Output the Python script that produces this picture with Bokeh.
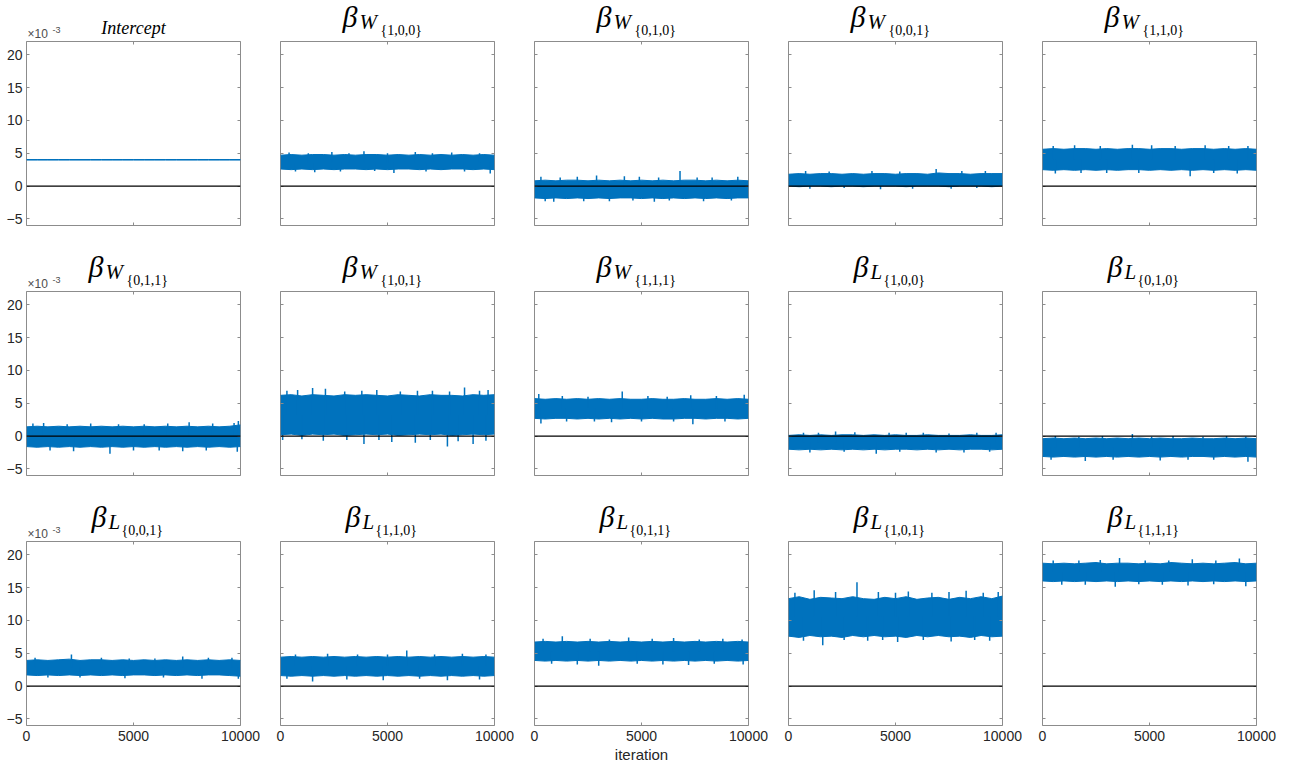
from bokeh.plotting import figure
from bokeh.layouts import row, column
from bokeh.models import Range1d, FixedTicker, LinearAxis, Span, Label
from bokeh.embed import file_html
from bokeh.resources import INLINE

# ---------------- data (values in units of 1e-3) ----------------
iterations = [0, 500, 1000, 1500, 2000, 2500, 3000, 3500, 4000, 4500, 5000,
              5500, 6000, 6500, 7000, 7500, 8000, 8500, 9000, 9500, 10000]
x_ticks = [0, 5000, 10000]
y_ticks = [-5, 0, 5, 10, 15, 20]

panel_names = ["Intercept", "W100", "W010", "W001", "W110",
               "W011", "W101", "W111", "L100", "L010",
               "L001", "L110", "L011", "L101", "L111"]
title_letters = [None, "W", "W", "W", "W", "W", "W", "W", "L", "L", "L", "L", "L", "L", "L"]
title_subs = [None, "{1,0,0}", "{0,1,0}", "{0,0,1}", "{1,1,0}",
              "{0,1,1}", "{1,0,1}", "{1,1,1}", "{1,0,0}", "{0,1,0}",
              "{0,0,1}", "{1,1,0}", "{0,1,1}", "{1,0,1}", "{1,1,1}"]
centres = [4.0, 3.6, -0.5, 0.95, 4.1, -0.1, 3.2, 4.2, -0.95, -1.75,
           2.8, 3.05, 5.3, 10.6, 17.35]

Intercept_hi = [4.04, 4.04, 4.04, 4.04, 4.04, 4.04, 4.04, 4.04, 4.04, 4.04, 4.04, 4.04, 4.04, 4.04, 4.04, 4.04, 4.04, 4.04, 4.04, 4.04, 4.04]
Intercept_lo = [3.96, 3.96, 3.96, 3.96, 3.96, 3.96, 3.96, 3.96, 3.96, 3.96, 3.96, 3.96, 3.96, 3.96, 3.96, 3.96, 3.96, 3.96, 3.96, 3.96, 3.96]
Intercept_spike_it = []
Intercept_spike_val = []

W100_hi = [4.7, 4.8, 4.7, 4.8, 4.8, 4.7, 4.8, 4.7, 4.8, 4.8, 4.7, 4.8, 4.7, 4.8, 4.7, 4.8, 4.7, 4.8, 4.7, 4.8, 4.7]
W100_lo = [2.6, 2.5, 2.6, 2.5, 2.6, 2.5, 2.6, 2.6, 2.5, 2.6, 2.5, 2.6, 2.6, 2.5, 2.6, 2.5, 2.6, 2.6, 2.5, 2.6, 2.5]
W100_spike_it = [400, 1300, 2400, 3200, 3900, 5000, 6300, 7100, 8000, 9300,
                 700, 1600, 2800, 4400, 5300, 6800, 8600, 9800]
W100_spike_val = [5.1, 5.0, 5.2, 5.0, 5.3, 5.0, 5.2, 5.0, 5.1, 5.0,
                  2.2, 2.1, 2.2, 2.3, 2.0, 2.2, 2.2, 1.9]

W010_hi = [0.8, 0.9, 0.8, 0.9, 0.9, 0.8, 0.9, 0.8, 0.9, 0.8, 0.9, 0.8, 0.9, 0.8, 0.9, 0.9, 0.8, 0.9, 0.8, 0.9, 0.8]
W010_lo = [-1.8, -1.9, -1.8, -1.9, -1.8, -1.9, -1.8, -1.9, -1.8, -1.8, -1.9, -1.8, -1.9, -1.8, -1.9, -1.8, -1.9, -1.8, -1.9, -1.8, -1.8]
W010_spike_it = [300, 1200, 2000, 2900, 4200, 4900, 5800, 6800, 7600, 8300, 9500,
                 500, 900, 2300, 3500, 4600, 5600, 6300, 7900, 9200]
W010_spike_val = [1.4, 1.3, 1.4, 1.6, 1.5, 1.4, 1.3, 2.3, 1.3, 1.3, 1.4,
                  -2.3, -2.4, -2.3, -2.3, -2.2, -2.4, -2.2, -2.3, -2.2]

W001_hi = [1.8, 1.9, 1.8, 1.9, 1.9, 1.8, 1.9, 1.8, 1.9, 1.9, 1.8, 1.9, 1.9, 1.8, 2.0, 1.9, 1.9, 1.8, 1.9, 1.9, 1.9]
W001_lo = [0.0, -0.1, 0.0, 0.0, -0.1, 0.0, 0.0, -0.1, 0.0, 0.0, 0.0, -0.1, 0.0, 0.0, 0.0, -0.1, 0.0, 0.0, 0.0, -0.1, 0.0]
W001_spike_it = [800, 1900, 3900, 5200, 6900, 8100, 9200,
                 1000, 2600, 4300, 5800, 7600, 8800]
W001_spike_val = [2.3, 2.2, 2.3, 2.2, 2.6, 2.3, 2.3,
                  -0.4, -0.3, -0.5, -0.4, -0.4, -0.3]

W110_hi = [5.6, 5.7, 5.6, 5.7, 5.7, 5.6, 5.7, 5.6, 5.7, 5.7, 5.6, 5.7, 5.7, 5.6, 5.7, 5.7, 5.6, 5.7, 5.6, 5.7, 5.6]
W110_lo = [2.5, 2.4, 2.5, 2.4, 2.5, 2.4, 2.5, 2.4, 2.5, 2.5, 2.4, 2.5, 2.4, 2.5, 2.4, 2.5, 2.4, 2.5, 2.4, 2.5, 2.4]
W110_spike_it = [500, 1500, 2700, 4200, 5100, 6200, 7600, 8700, 9600,
                 600, 1800, 3000, 4500, 6900, 8000, 9100]
W110_spike_val = [6.1, 6.2, 6.1, 6.3, 6.2, 6.1, 6.2, 6.1, 6.1,
                  1.9, 2.0, 2.0, 2.0, 1.5, 2.0, 1.9]

W011_hi = [1.4, 1.5, 1.4, 1.5, 1.4, 1.5, 1.4, 1.5, 1.4, 1.5, 1.4, 1.5, 1.4, 1.5, 1.4, 1.5, 1.4, 1.5, 1.4, 1.5, 1.7]
W011_lo = [-1.6, -1.7, -1.6, -1.7, -1.6, -1.7, -1.6, -1.7, -1.6, -1.7, -1.6, -1.7, -1.6, -1.7, -1.6, -1.7, -1.6, -1.7, -1.6, -1.7, -1.6]
W011_spike_it = [300, 800, 1900, 3000, 4300, 5500, 6600, 7600, 8700, 9700, 9900,
                 1100, 2200, 3900, 5000, 6200, 7300, 8400, 9850]
W011_spike_val = [1.9, 2.0, 1.8, 1.9, 1.8, 1.8, 1.9, 2.1, 1.9, 2.0, 2.3,
                  -2.2, -2.3, -2.7, -2.2, -2.2, -2.3, -2.2, -2.4]

W101_hi = [6.2, 6.3, 6.1, 6.3, 6.2, 6.1, 6.3, 6.2, 6.3, 6.2, 6.1, 6.3, 6.2, 6.1, 6.3, 6.2, 6.2, 6.1, 6.3, 6.2, 6.3]
W101_lo = [0.2, 0.3, 0.1, 0.3, 0.2, 0.3, 0.1, 0.2, 0.3, 0.2, 0.3, 0.1, 0.2, 0.3, 0.2, 0.3, 0.1, 0.2, 0.3, 0.2, 0.3]
W101_spike_it = [300, 800, 1500, 2100, 3000, 3800, 4500, 5600, 6400, 7100, 7900, 8600, 9300, 9700,
                 100, 1000, 2000, 3100, 3900, 4600, 5200, 6300, 7000, 7800, 8300, 9000, 9600]
W101_spike_val = [6.9, 7.0, 7.3, 7.2, 6.8, 6.9, 7.0, 6.8, 6.9, 6.9, 6.8, 7.4, 6.9, 7.0,
                  -0.6, -0.5, -0.7, -0.6, -1.2, -0.6, -0.9, -1.0, -0.6, -1.6, -0.8, -1.2, -0.7]

W111_hi = [5.7, 5.6, 5.7, 5.6, 5.7, 5.6, 5.7, 5.6, 5.7, 5.6, 5.6, 5.7, 5.6, 5.6, 5.7, 5.6, 5.6, 5.7, 5.6, 5.7, 5.6]
W111_lo = [2.7, 2.6, 2.7, 2.7, 2.6, 2.7, 2.6, 2.7, 2.6, 2.7, 2.6, 2.7, 2.6, 2.6, 2.7, 2.7, 2.6, 2.7, 2.7, 2.6, 2.7]
W111_spike_it = [200, 1300, 2500, 4100, 5300, 6200, 7300, 8500, 9800,
                 300, 1500, 2800, 3600, 5000, 6500, 7400, 8900]
W111_spike_val = [6.4, 6.1, 6.0, 6.8, 6.1, 6.0, 6.2, 6.1, 6.3,
                  1.9, 2.2, 2.2, 2.1, 2.2, 2.2, 1.8, 2.2]

L100_hi = [0.1, 0.2, 0.1, 0.2, 0.1, 0.2, 0.2, 0.1, 0.2, 0.1, 0.2, 0.1, 0.1, 0.2, 0.1, 0.1, 0.1, 0.2, 0.1, 0.1, 0.2]
L100_lo = [-2.0, -2.1, -2.0, -2.1, -2.0, -2.1, -2.0, -2.1, -2.0, -2.1, -2.0, -2.0, -2.1, -2.0, -2.1, -2.0, -2.1, -2.0, -2.0, -2.1, -2.0]
L100_spike_it = [700, 1400, 2200, 3100, 4700, 5500, 6300, 7500, 8800, 9700,
                 1000, 2600, 4100, 5200, 6900, 8200, 9400]
L100_spike_val = [0.5, 0.5, 0.7, 0.6, 0.5, 0.5, 0.5, 0.4, 0.5, 0.5,
                  -2.5, -2.4, -2.7, -2.4, -2.5, -2.5, -2.4]

L010_hi = [-0.4, -0.3, -0.4, -0.3, -0.4, -0.3, -0.4, -0.3, -0.4, -0.3, -0.4, -0.3, -0.4, -0.4, -0.3, -0.4, -0.4, -0.3, -0.4, -0.3, -0.4]
L010_lo = [-3.1, -3.2, -3.1, -3.2, -3.1, -3.2, -3.1, -3.2, -3.1, -3.2, -3.1, -3.2, -3.1, -3.2, -3.1, -3.1, -3.2, -3.1, -3.2, -3.1, -3.2]
L010_spike_it = [600, 1700, 2800, 4200, 5100, 6100, 7500, 8600, 9500,
                 400, 2000, 3300, 5500, 6800, 8000, 9600]
L010_spike_val = [0.0, -0.1, 0.0, 0.3, -0.1, 0.0, -0.1, 0.0, -0.1,
                  -3.6, -3.8, -3.6, -3.7, -3.6, -3.6, -3.9]

L001_hi = [3.9, 4.0, 3.9, 4.0, 4.1, 3.9, 4.0, 4.0, 3.9, 4.0, 3.9, 4.0, 3.9, 4.0, 3.9, 4.0, 3.9, 4.0, 3.9, 4.0, 3.9]
L001_lo = [1.7, 1.6, 1.7, 1.6, 1.7, 1.6, 1.7, 1.6, 1.7, 1.6, 1.7, 1.7, 1.6, 1.7, 1.6, 1.7, 1.6, 1.7, 1.7, 1.6, 1.5]
L001_spike_it = [400, 2100, 3500, 4800, 6000, 7300, 8500, 9600,
                 1000, 2500, 4600, 6400, 8200, 9900]
L001_spike_val = [4.3, 4.8, 4.3, 4.2, 4.2, 4.5, 4.3, 4.3,
                  1.3, 1.3, 1.2, 1.3, 1.1, 1.1]

L110_hi = [4.4, 4.5, 4.4, 4.5, 4.4, 4.5, 4.4, 4.5, 4.4, 4.5, 4.4, 4.5, 4.4, 4.5, 4.4, 4.5, 4.4, 4.5, 4.4, 4.5, 4.4]
L110_lo = [1.6, 1.5, 1.6, 1.5, 1.6, 1.5, 1.6, 1.5, 1.6, 1.5, 1.6, 1.5, 1.6, 1.5, 1.6, 1.5, 1.6, 1.5, 1.6, 1.5, 1.6]
L110_spike_it = [700, 2200, 3600, 5000, 5900, 7200, 8500, 9600,
                 300, 1500, 3100, 4800, 6500, 7800, 9300]
L110_spike_val = [4.8, 4.9, 4.8, 4.8, 5.4, 4.8, 4.9, 4.8,
                  1.1, 0.7, 1.0, 0.9, 1.1, 0.9, 1.0]

L011_hi = [6.7, 6.8, 6.7, 6.8, 6.7, 6.8, 6.7, 6.8, 6.7, 6.8, 6.7, 6.8, 6.7, 6.8, 6.7, 6.8, 6.7, 6.8, 6.7, 6.8, 6.7]
L011_lo = [3.9, 3.8, 3.9, 3.8, 3.9, 3.8, 3.9, 3.8, 3.9, 3.8, 3.9, 3.8, 3.9, 3.8, 3.9, 3.8, 3.9, 3.8, 3.9, 3.8, 3.9]
L011_spike_it = [400, 1300, 2600, 3500, 4400, 5500, 6500, 7700, 8800, 9700,
                 800, 2000, 3000, 4800, 6000, 7200, 8400, 9750]
L011_spike_val = [7.2, 7.6, 7.2, 7.1, 7.4, 7.2, 7.3, 7.1, 7.2, 7.1,
                  3.4, 3.3, 3.1, 3.4, 3.3, 3.2, 3.4, 3.3]

L101_hi = [13.3, 13.6, 13.2, 13.5, 13.4, 13.3, 13.6, 13.3, 13.2, 13.5, 13.3, 13.6, 13.2, 13.4, 13.5, 13.2, 13.5, 13.3, 13.6, 13.3, 13.7]
L101_lo = [7.6, 7.4, 7.7, 7.5, 7.6, 7.4, 7.7, 7.5, 7.7, 7.5, 7.6, 7.4, 7.7, 7.5, 7.7, 7.5, 7.6, 7.4, 7.7, 7.5, 7.6]
L101_spike_it = [300, 1200, 2200, 3200, 4200, 5000, 5600, 6700, 7500, 8300, 9100, 9800,
                 700, 1600, 2600, 3700, 4400, 5100, 6300, 7600, 8700, 9400]
L101_spike_val = [14.2, 14.6, 14.3, 15.8, 14.3, 14.2, 14.4, 14.2, 14.3, 14.5, 14.2, 14.3,
                  6.9, 6.2, 7.0, 6.9, 7.0, 6.7, 7.0, 6.8, 7.0, 6.9]

L111_hi = [18.7, 18.6, 18.7, 18.6, 18.7, 18.8, 18.6, 18.7, 18.7, 18.6, 18.7, 18.6, 18.8, 18.7, 18.6, 18.7, 18.6, 18.7, 18.8, 18.6, 18.7]
L111_lo = [16.0, 15.9, 16.0, 15.9, 16.0, 15.9, 16.0, 15.9, 16.0, 15.9, 16.0, 15.9, 16.0, 15.9, 16.0, 15.9, 16.0, 15.9, 16.0, 15.9, 16.0]
L111_spike_it = [500, 1700, 2700, 3600, 4800, 5900, 7000, 8100, 9200,
                 900, 2000, 3400, 4500, 5600, 6800, 8000, 9500]
L111_spike_val = [19.1, 19.1, 19.2, 19.5, 19.1, 19.1, 19.3, 19.1, 19.4,
                  15.4, 15.4, 15.1, 15.5, 15.4, 15.3, 15.5, 15.2]

# ---------------- styling ----------------
BLUE = "#0072BD"
BOX = "#8c8c8c"
TXT = "#262626"
SANS = "Liberation Sans"
SERIF = "Liberation Serif"

FRAME_W, FRAME_H = 214, 184
TITLE_H = 41

data = globals()


def borders(c):
    return (26 if c == 0 else 20), (30 if c == 4 else 20)


def make_title(i):
    r, c = divmod(i, 5)
    bl, br = borders(c)
    # title strip: y is measured in pixels above the top edge of the panel below
    tf = figure(frame_width=FRAME_W, frame_height=TITLE_H,
                x_range=Range1d(0, 10000), y_range=Range1d(0, TITLE_H),
                x_axis_type=None, y_axis_type=None,
                output_backend="svg", toolbar_location=None,
                min_border_left=bl, min_border_right=br,
                min_border_top=0, min_border_bottom=0)
    tf.outline_line_color = None
    tf.background_fill_color = "white"
    tf.border_fill_color = "white"
    tf.xgrid.visible = False
    tf.ygrid.visible = False

    if title_letters[i] is None:
        tf.add_layout(Label(x=5000, y=14, text=panel_names[i], text_font=SERIF,
                            text_font_style="italic", text_font_size="18px",
                            text_color="black", text_align="center",
                            text_baseline="alphabetic"))
    else:
        narrow = title_letters[i] == "L"
        bx = -42 if narrow else -45
        tf.add_layout(Label(x=5000, y=25, text="\u03b2", text_font=SERIF, text_font_style="italic",
                            text_font_size="30px", text_color="black", text_align="left",
                            text_baseline="alphabetic", x_offset=bx))
        tf.add_layout(Label(x=5000, y=20, text=title_letters[i], text_font=SERIF,
                            text_font_style="italic", text_font_size="21px", text_color="black",
                            text_align="left", text_baseline="alphabetic",
                            x_offset=bx + 17))
        tf.add_layout(Label(x=5000, y=11, text=title_subs[i], text_font=SERIF,
                            text_font_size="14px", text_color="black", text_align="left",
                            text_baseline="alphabetic",
                            x_offset=(bx + 30 if narrow else bx + 38)))

    if c == 0:
        tf.add_layout(Label(x=0, y=8, text="\u00d710", text_font=SANS, text_font_size="12px",
                            text_color="#4d4d4d", text_align="left", text_baseline="alphabetic",
                            x_offset=1))
        tf.add_layout(Label(x=0, y=12, text="-3", text_font=SANS, text_font_size="9px",
                            text_color="#4d4d4d", text_align="left", text_baseline="alphabetic",
                            x_offset=26))
    return tf


def tick_only_axis(ticks):
    return LinearAxis(ticker=FixedTicker(ticks=[], minor_ticks=ticks), axis_line_color=None,
                      major_tick_line_color=None, minor_tick_in=3, minor_tick_out=0,
                      minor_tick_line_color=BOX, major_label_standoff=0)


def make_panel(i):
    r, c = divmod(i, 5)
    name = panel_names[i]
    bl, br = borders(c)
    p = figure(frame_width=FRAME_W, frame_height=FRAME_H,
               x_range=Range1d(0, 10000), y_range=Range1d(-6, 22),
               x_axis_type=None, y_axis_type=None,
               output_backend="svg", toolbar_location=None,
               min_border_left=bl, min_border_right=br,
               min_border_top=0, min_border_bottom=(40 if r == 2 else 25))
    p.background_fill_color = "white"
    p.border_fill_color = "white"
    p.outline_line_color = BOX
    p.outline_line_width = 1

    hi = data[name + "_hi"]
    lo = data[name + "_lo"]
    p.varea(x=iterations, y1=lo, y2=hi, fill_color=BLUE)
    p.line(x=iterations, y=hi, line_color=BLUE, line_width=1)
    p.line(x=iterations, y=lo, line_color=BLUE, line_width=1)
    sp_it = data[name + "_spike_it"]
    sp_val = data[name + "_spike_val"]
    if sp_it:
        p.segment(x0=sp_it, y0=[centres[i]] * len(sp_it), x1=sp_it, y1=sp_val,
                  line_color=BLUE, line_width=1.5)

    p.add_layout(Span(location=0, dimension="width", line_color="black", line_width=1.3))

    # bottom axis
    if r == 2:
        xa = LinearAxis(ticker=FixedTicker(ticks=x_ticks), axis_line_color=None,
                        major_tick_in=3, major_tick_out=0, major_tick_line_color=BOX,
                        minor_tick_line_color=None, major_label_text_color=TXT,
                        major_label_text_font=SANS, major_label_text_font_size="14px",
                        major_label_standoff=5)
        if c == 2:
            xa.axis_label = "iteration"
            xa.axis_label_text_font = SANS
            xa.axis_label_text_font_size = "15px"
            xa.axis_label_text_font_style = "normal"
            xa.axis_label_text_color = TXT
            xa.axis_label_standoff = 2
    else:
        xa = tick_only_axis(x_ticks)
    p.add_layout(xa, "below")

    # left axis
    if c == 0:
        ya = LinearAxis(ticker=FixedTicker(ticks=y_ticks), axis_line_color=None,
                        major_tick_in=3, major_tick_out=0, major_tick_line_color=BOX,
                        minor_tick_line_color=None, major_label_text_color=TXT,
                        major_label_text_font=SANS, major_label_text_font_size="14px",
                        major_label_standoff=4)
    else:
        ya = tick_only_axis(y_ticks)
    p.add_layout(ya, "left")

    p.add_layout(tick_only_axis(x_ticks), "above")
    p.add_layout(tick_only_axis(y_ticks), "right")
    return p


cells = [column(make_title(i), make_panel(i)) for i in range(15)]
layout = column(row(cells[0:5]), row(cells[5:10]), row(cells[10:15]))

open("out.html", "w").write(file_html(layout, INLINE))
